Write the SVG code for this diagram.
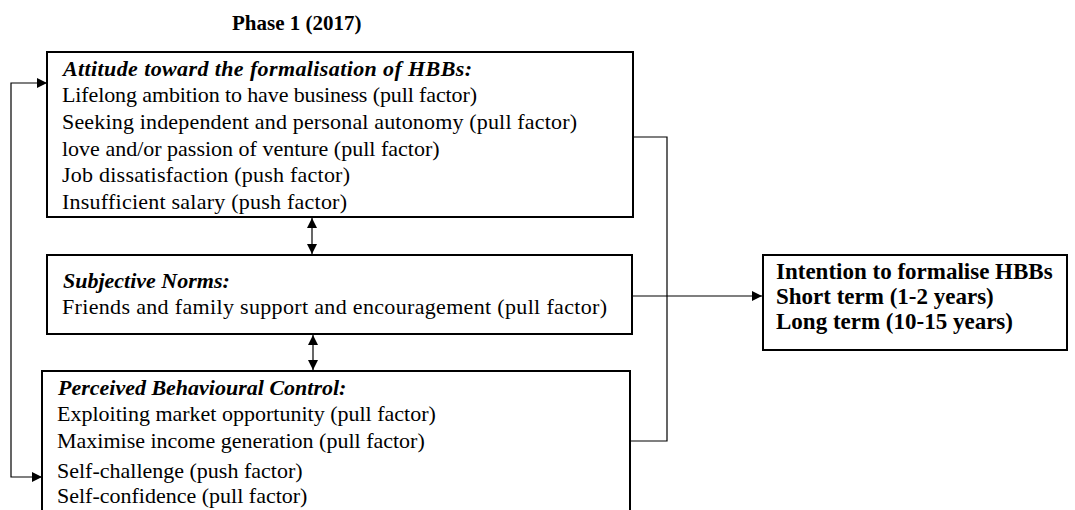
<svg xmlns="http://www.w3.org/2000/svg" width="1075" height="510" viewBox="0 0 1075 510">
<style>
text{font-family:"Liberation Serif","Times New Roman",serif;font-size:22px;fill:#000}
.h{font-weight:bold;font-style:italic}
.b{font-weight:bold}
.box{fill:#fff;stroke:#000;stroke-width:2}
.c{fill:none;stroke:#000;stroke-width:1.2}
</style>
<defs>
<marker id="ah" viewBox="0 0 10 10" refX="10" refY="5" markerWidth="10" markerHeight="10" markerUnits="userSpaceOnUse" orient="auto-start-reverse">
<path d="M0,0 L10,5 L0,10 Z" fill="#000"/>
</marker>
</defs>
<rect width="1075" height="510" fill="#fff"/>
<text class="b" x="232" y="30" style="font-size:21px">Phase 1 (2017)</text>
<g id="connectors">
<path class="c" d="M47,83 H11 V477 H42" marker-start="url(#ah)" marker-end="url(#ah)"/>
<path class="c" d="M312,218 V254" marker-start="url(#ah)" marker-end="url(#ah)"/>
<path class="c" d="M313,335 V370" marker-start="url(#ah)" marker-end="url(#ah)"/>
<path class="c" d="M633,137 H667 V441 H630"/>
<path class="c" d="M632,296 H762" marker-end="url(#ah)"/>
</g>
<g id="attitude">
<rect class="box" x="47" y="52" width="586" height="165"/>
<text class="h" x="63" y="76" textLength="409" lengthAdjust="spacing">Attitude toward the formalisation of HBBs:</text>
<text x="62" y="102" textLength="415" lengthAdjust="spacing">Lifelong ambition to have business (pull factor)</text>
<text x="62" y="129" textLength="515" lengthAdjust="spacing">Seeking independent and personal autonomy (pull factor)</text>
<text x="62" y="156">love and/or passion of venture (pull factor)</text>
<text x="62" y="182" textLength="288" lengthAdjust="spacing">Job dissatisfaction (push factor)</text>
<text x="62" y="209" textLength="285" lengthAdjust="spacing">Insufficient salary (push factor)</text>
</g>
<g id="subjective">
<rect class="box" x="47" y="255" width="585" height="79"/>
<text class="h" x="63" y="288">Subjective Norms:</text>
<text x="62" y="314" textLength="545" lengthAdjust="spacing">Friends and family support and encouragement (pull factor)</text>
</g>
<g id="pbc">
<rect class="box" x="42" y="371" width="588" height="150"/>
<text class="h" x="58" y="395">Perceived Behavioural Control:</text>
<text x="57" y="421">Exploiting market opportunity (pull factor)</text>
<text x="57" y="448">Maximise income generation (pull factor)</text>
<text x="57" y="478">Self-challenge (push factor)</text>
<text x="57" y="503">Self-confidence (pull factor)</text>
</g>
<g id="intention">
<rect class="box" x="763" y="255" width="304" height="95"/>
<text class="b" x="776" y="279" style="font-size:23px">Intention to formalise HBBs</text>
<text class="b" x="776" y="304" style="font-size:23px">Short term (1-2 years)</text>
<text class="b" x="776" y="329" style="font-size:23px">Long term (10-15 years)</text>
</g>
</svg>
